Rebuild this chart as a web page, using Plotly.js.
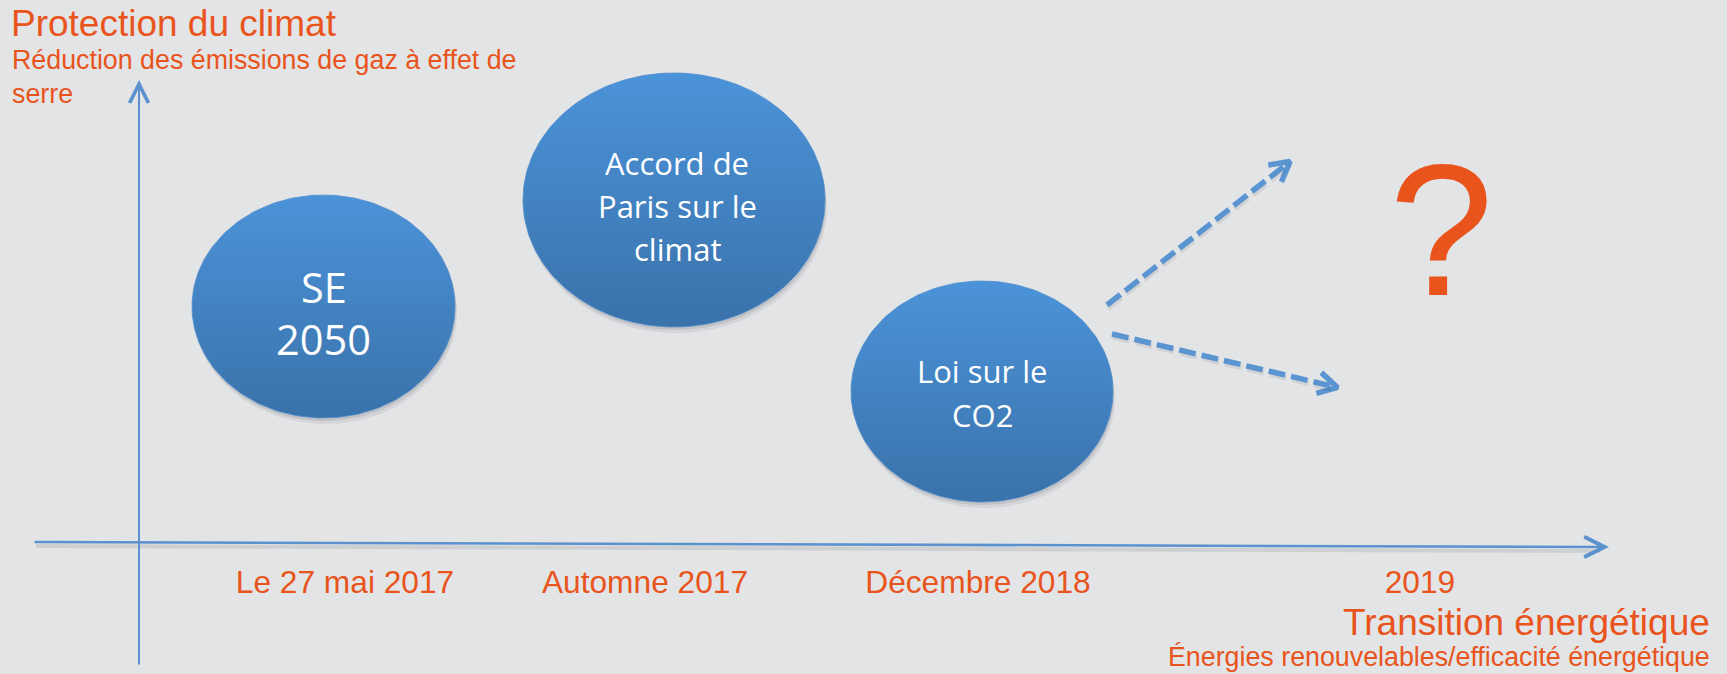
<!DOCTYPE html>
<html>
<head>
<meta charset="utf-8">
<script src="https://cdn.plot.ly/plotly-3.0.1.min.js"></script>
<style>
  html, body { margin: 0; padding: 0; background: #E3E4E6; }
  #chart { width: 1727px; height: 674px; }
</style>
</head>
<body>
<div id="chart"></div>
<script>
// ---------- data ----------
const categories = ['Le 27 mai 2017', 'Automne 2017', 'Décembre 2018', '2019'];
const categoryPos = [345, 645, 978, 1420];

const bubbleLabels = [['SE', '2050'], ['Accord de', 'Paris sur le', 'climat'], ['Loi sur le', 'CO2']];
const bubbleX = [323.5, 674, 982];
const bubbleY = [306.5, 200, 391.5];
const bubbleRx = [131.5, 151, 131];
const bubbleRy = [111.5, 127, 110.5];

const trendStartX = [1107, 1112];
const trendStartY = [305, 334];
const trendEndX = [1292, 1340];
const trendEndY = [160, 388];

const yTitle = 'Protection du climat';
const ySubtitle = ['Réduction des émissions de gaz à effet de', 'serre'];
const xTitle = 'Transition énergétique';
const xSubtitle = 'Énergies renouvelables/efficacité énergétique';
const unknownMark = '?';

// ---------- styles ----------
const W = 1727, H = 674;
const ORANGE = '#E8541C';
const AXIS_BLUE = '#5B91CD';
const DASH_BLUE = '#5A94D1';
const ARIAL = 'Liberation Sans, Arial, sans-serif';
const BODY = 'Open Sans, sans-serif';
const bubbleFont = [41.5, 31, 31];
const bubbleGap = [51.7, 42.9, 43.3];
const bubbleDx = [0, 3, 0];
const bubbleDy = [6.5, 6.3, 1.5];

function ellipse(cx, cy, rx, ry, ox, oy) {
  const xs = [], ys = [];
  for (let i = 0; i <= 200; i++) {
    const t = 2 * Math.PI * i / 200;
    xs.push(cx + ox + rx * Math.cos(t));
    ys.push(cy + oy + ry * Math.sin(t));
  }
  return { xs, ys };
}

const traces = [];
// soft shadows
bubbleX.forEach((cx, i) => {
  [[1, 3, 0.10], [2, 6, 0.08]].forEach(([ox, oy, a]) => {
    const e = ellipse(cx, bubbleY[i], bubbleRx[i], bubbleRy[i], ox, oy);
    traces.push({
      type: 'scatter', mode: 'lines', x: e.xs, y: e.ys, fill: 'toself',
      fillcolor: 'rgba(40,40,50,' + a + ')', line: { width: 0, color: 'rgba(0,0,0,0)' },
      hoverinfo: 'skip', showlegend: false
    });
  });
});
// bubbles with vertical gradient
bubbleX.forEach((cx, i) => {
  const e = ellipse(cx, bubbleY[i], bubbleRx[i], bubbleRy[i], 0, 0);
  traces.push({
    type: 'scatter', mode: 'lines', x: e.xs, y: e.ys, fill: 'toself',
    fillgradient: {
      type: 'vertical',
      start: bubbleY[i] - bubbleRy[i],
      stop: bubbleY[i] + bubbleRy[i],
      colorscale: [[0, '#4B93D9'], [1, '#3A72AA']]
    },
    line: { width: 1, color: 'rgba(80,140,205,0.8)' },
    hoverinfo: 'skip', showlegend: false
  });
});

function txt(text, x, y, size, family, color, xanchor) {
  return {
    text: text, x: x, y: y, xref: 'x', yref: 'y',
    xanchor: xanchor || 'center', yanchor: 'middle',
    showarrow: false, font: { family: family, size: size, color: color }
  };
}

const annotations = [];
// axis titles
annotations.push(txt(yTitle, 9, 23.8, 37, ARIAL, ORANGE, 'left'));
annotations.push(txt(ySubtitle[0], 10, 60.2, 26.8, ARIAL, ORANGE, 'left'));
annotations.push(txt(ySubtitle[1], 10, 93.7, 26.8, ARIAL, ORANGE, 'left'));
annotations.push(txt(xTitle, 1712, 622.2, 37, ARIAL, ORANGE, 'right'));
annotations.push(txt(xSubtitle, 1712, 657.4, 26.8, ARIAL, ORANGE, 'right'));
// question mark
annotations.push(txt(unknownMark, 1441.5, 229.9, 188, ARIAL, ORANGE, 'center'));
// bubble labels
bubbleLabels.forEach((lines, i) => {
  const n = lines.length;
  lines.forEach((line, j) => {
    annotations.push(txt(line,
      bubbleX[i] + bubbleDx[i],
      bubbleY[i] + bubbleDy[i] + (j - (n - 1) / 2) * bubbleGap[i],
      bubbleFont[i], BODY, '#FFFFFF', 'center'));
  });
});

function arrowAnn(x, y, ax, ay, width, size, color) {
  return {
    x: x, y: y, ax: ax, ay: ay, xref: 'x', yref: 'y', axref: 'x', ayref: 'y',
    text: '', showarrow: true, arrowhead: 5, arrowwidth: width, arrowsize: size,
    arrowcolor: color
  };
}
// axes with arrows
annotations.push(arrowAnn(1609, 547, 33, 542, 2.5, 1.6, AXIS_BLUE));
annotations.push(arrowAnn(139, 80, 139, 666, 2, 1.85, AXIS_BLUE));

const shapes = [
  // shadow under the horizontal axis
  { type: 'line', xref: 'x', yref: 'y', x0: 36, y0: 546, x1: 1600, y1: 551,
    line: { color: 'rgba(0,0,0,0.09)', width: 4 }, layer: 'below' }
];

// dashed trend arrows with open chevron heads
const HEAD_LEN = 22, HEAD_ANG = 29 * Math.PI / 180;
trendStartX.forEach((sx, i) => {
  const ex = trendEndX[i], ey = trendEndY[i], sy = trendStartY[i];
  const len = Math.hypot(ex - sx, ey - sy);
  const ux = (ex - sx) / len, uy = (ey - sy) / len;
  const bx = ex - 4 * ux, by = ey - 4 * uy;
  shapes.push({ type: 'line', xref: 'x', yref: 'y', x0: sx + 1, y0: sy + 3, x1: bx + 1, y1: by + 3,
    line: { color: 'rgba(0,0,0,0.08)', width: 5.5, dash: '17px,6px' } });
  shapes.push({ type: 'line', xref: 'x', yref: 'y', x0: sx, y0: sy, x1: bx, y1: by,
    line: { color: DASH_BLUE, width: 5.5, dash: '17px,6px' } });
  const vx = -ux, vy = -uy;
  const rot = (a) => [vx * Math.cos(a) - vy * Math.sin(a), vx * Math.sin(a) + vy * Math.cos(a)];
  const r1 = rot(HEAD_ANG), r2 = rot(-HEAD_ANG);
  const tx = ex - 2.5 * ux, ty = ey - 2.5 * uy;
  traces.push({
    type: 'scatter', mode: 'lines',
    x: [tx + HEAD_LEN * r1[0], tx, tx + HEAD_LEN * r2[0]],
    y: [ty + HEAD_LEN * r1[1], ty, ty + HEAD_LEN * r2[1]],
    line: { color: DASH_BLUE, width: 5.5 },
    hoverinfo: 'skip', showlegend: false
  });
});

const layout = {
  width: W, height: H,
  margin: { l: 0, r: 0, t: 0, b: 0, pad: 0 },
  paper_bgcolor: '#E3E4E6', plot_bgcolor: '#E3E4E6',
  showlegend: false,
  xaxis: {
    range: [0, W], anchor: 'free', position: (H - 545) / H,
    showgrid: false, zeroline: false, showline: false, ticks: '',
    tickmode: 'array', tickvals: categoryPos, ticktext: categories,
    tickfont: { family: ARIAL, size: 31.7, color: ORANGE },
    ticklabelstandoff: 15, fixedrange: true
  },
  yaxis: { range: [H, 0], visible: false, fixedrange: true },
  shapes: shapes,
  annotations: annotations
};

Plotly.newPlot('chart', traces, layout, { displayModeBar: false, staticPlot: true });
</script>
</body>
</html>
